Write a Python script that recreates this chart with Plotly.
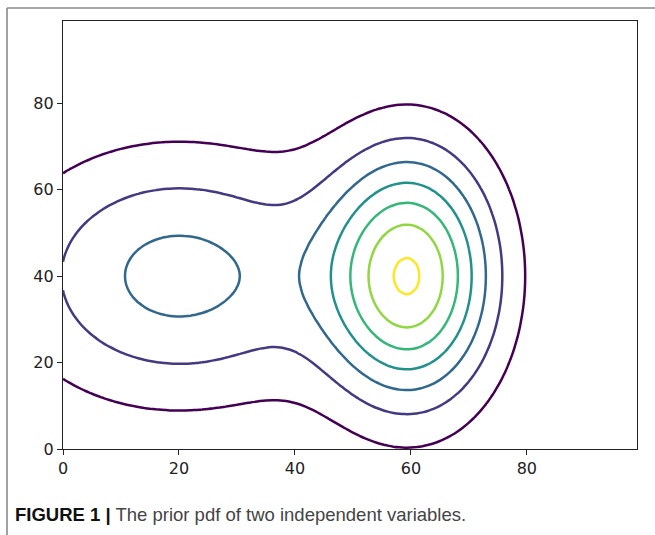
import numpy as np
import plotly.graph_objects as go

# ---- data: prior pdf model (two independent variables) ----
GRID_X = list(range(100))
GRID_Y = list(range(100))
# x: mixture of two Gaussians
X_MEANS = [20.0, 60.0]
X_SIGMAS = [20.0, 10.0]
X_WEIGHTS = [0.5, 0.5]
# y: single Gaussian
Y_MEAN = 40.0
Y_SIGMA = 20.0
# contour levels and their colours (viridis)
LEVELS = [5.95e-5, 1.19e-4, 1.785e-4, 2.38e-4, 2.975e-4, 3.57e-4, 4.165e-4]
LEVEL_COLORS = ["#440154", "#443983", "#31688e", "#21918c", "#35b779", "#90d743", "#fde725"]
X_TICKS = [0, 20, 40, 60, 80]
Y_TICKS = [0, 20, 40, 60, 80]
CAPTION_BOLD = "FIGURE 1 |"
CAPTION_TEXT = " The prior pdf of two independent variables."


def normal(v, m, s):
    return np.exp(-0.5 * ((v - m) / s) ** 2) / (s * np.sqrt(2 * np.pi))


xs = np.array(GRID_X, dtype=float)
ys = np.array(GRID_Y, dtype=float)
px = sum(w * normal(xs, m, s) for w, m, s in zip(X_WEIGHTS, X_MEANS, X_SIGMAS))
qy = normal(ys, Y_MEAN, Y_SIGMA)
Z = np.outer(qy, px)

fig = go.Figure()
for lev, col in zip(LEVELS, LEVEL_COLORS):
    fig.add_trace(go.Contour(
        x=GRID_X, y=GRID_Y, z=Z,
        contours=dict(start=lev, end=lev, size=1, coloring="lines"),
        colorscale=[[0, col], [1, col]],
        line=dict(width=2.5),
        showscale=False, hoverinfo="skip",
    ))

axis_common = dict(
    range=[0, 99], showgrid=False, zeroline=False,
    showline=True, mirror=True, linecolor="#222", linewidth=1.3,
    ticks="outside", ticklen=5, tickwidth=1.2, tickcolor="#222",
    tickfont=dict(family="DejaVu Sans", size=16, color="#222"),
)
fig.update_xaxes(tickvals=X_TICKS, **axis_common)
fig.update_yaxes(tickvals=Y_TICKS, **axis_common)

L, R, T, B = 63, 18, 21, 86
W, H = 655, 535
pw, ph = W - L - R, H - T - B


def px2paper_x(p):
    return (p - L) / pw


def px2paper_y(p):
    return (H - B - p) / ph


frame = dict(color="#8a8a8a", width=1.6)
fig.update_layout(
    width=W, height=H,
    margin=dict(l=L, r=R, t=T, b=B, autoexpand=False),
    paper_bgcolor="white", plot_bgcolor="white",
    showlegend=False,
    shapes=[
        dict(type="line", xref="paper", yref="paper",
             x0=px2paper_x(7), x1=px2paper_x(7), y0=px2paper_y(8), y1=px2paper_y(540), line=frame),
        dict(type="line", xref="paper", yref="paper",
             x0=px2paper_x(7), x1=px2paper_x(660), y0=px2paper_y(8), y1=px2paper_y(8), line=frame),
    ],
    annotations=[
        dict(xref="paper", yref="paper", x=px2paper_x(13), y=px2paper_y(514),
             xanchor="left", yanchor="middle", showarrow=False,
             text=f"<b>{CAPTION_BOLD}</b><span style='color:#444'>{CAPTION_TEXT}</span>",
             font=dict(family="Liberation Sans, Arial", size=18.5, color="#111")),
    ],
)

fig.write_html(
    "out.html",
    config={"displayModeBar": False},
    post_script="document.body.style.margin='0';document.body.style.overflow='hidden';",
)
